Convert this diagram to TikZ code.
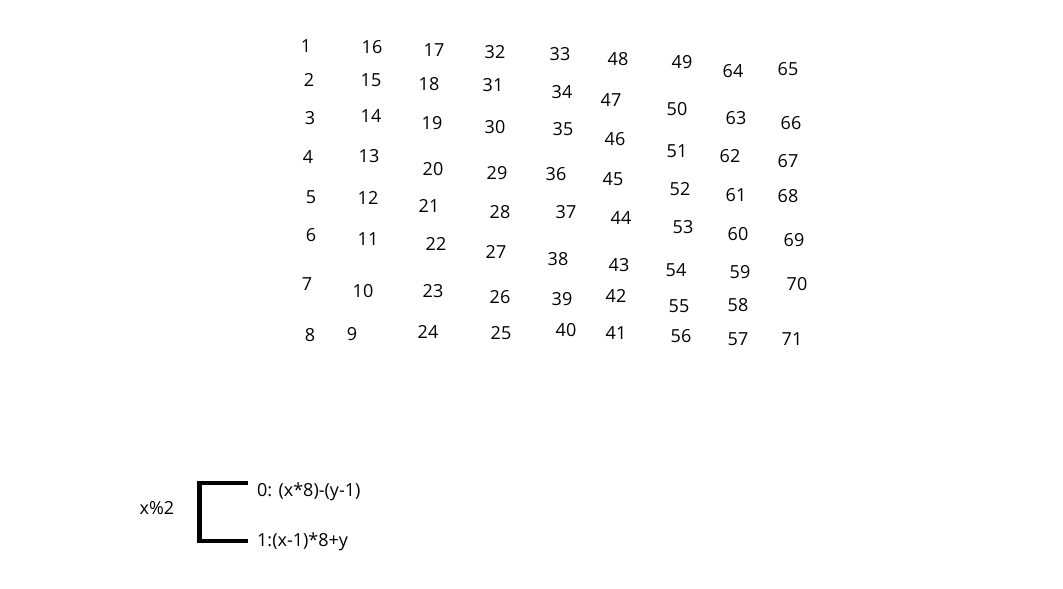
\documentclass[tikz,border=0pt]{standalone}
\usepackage{fontspec}
\setmainfont{Open Sans}
\usepackage{tikz}
\tikzset{
  Num/.style={font=\fontsize{18}{20}\selectfont, inner sep=1pt},
  Rule/.style={font=\fontsize{18}{20}\selectfont, inner sep=0pt, anchor=west},
  Brack/.style={line width=4.4pt}
}

\begin{document}
\begin{tikzpicture}[x=1pt,y=-1pt]
  \useasboundingbox (0,0) rectangle (1063,589);

  % first two columns
  \node[Num] (n1) at (306,46) {1};
  \node[Num] (n2) at (309,80) {2};
  \node[Num] (n3) at (310,118) {3};
  \node[Num] (n4) at (308,157) {4};
  \node[Num] (n5) at (311,197) {5};
  \node[Num] (n6) at (311,235) {6};
  \node[Num] (n7) at (307,284) {7};
  \node[Num] (n8) at (310,335) {8};
  \node[Num] (n9) at (352,334) {9};
  \node[Num] (n10) at (363,291) {10};
  \node[Num] (n11) at (368,239) {11};
  \node[Num] (n12) at (368,198) {12};
  \node[Num] (n13) at (369,156) {13};
  \node[Num] (n14) at (371,116) {14};
  \node[Num] (n15) at (371,80) {15};
  \node[Num] (n16) at (372,47) {16};

  % columns three and four
  \node[Num] (n17) at (434,50) {17};
  \node[Num] (n18) at (429,84) {18};
  \node[Num] (n19) at (432,123) {19};
  \node[Num] (n20) at (433,169) {20};
  \node[Num] (n21) at (429,206) {21};
  \node[Num] (n22) at (436,244) {22};
  \node[Num] (n23) at (433,291) {23};
  \node[Num] (n24) at (428,332) {24};
  \node[Num] (n25) at (501,333) {25};
  \node[Num] (n26) at (500,297) {26};
  \node[Num] (n27) at (496,252) {27};
  \node[Num] (n28) at (500,212) {28};
  \node[Num] (n29) at (497,173) {29};
  \node[Num] (n30) at (495,127) {30};
  \node[Num] (n31) at (493,85) {31};
  \node[Num] (n32) at (495,52) {32};

  % columns five and six
  \node[Num] (n33) at (560,54) {33};
  \node[Num] (n34) at (562,92) {34};
  \node[Num] (n35) at (563,129) {35};
  \node[Num] (n36) at (556,174) {36};
  \node[Num] (n37) at (566,212) {37};
  \node[Num] (n38) at (558,259) {38};
  \node[Num] (n39) at (562,299) {39};
  \node[Num] (n40) at (566,330) {40};
  \node[Num] (n41) at (616,333) {41};
  \node[Num] (n42) at (616,296) {42};
  \node[Num] (n43) at (619,265) {43};
  \node[Num] (n44) at (621,218) {44};
  \node[Num] (n45) at (613,179) {45};
  \node[Num] (n46) at (615,139) {46};
  \node[Num] (n47) at (611,100) {47};
  \node[Num] (n48) at (618,59) {48};

  % columns seven and eight
  \node[Num] (n49) at (682,62) {49};
  \node[Num] (n50) at (677,109) {50};
  \node[Num] (n51) at (677,151) {51};
  \node[Num] (n52) at (680,189) {52};
  \node[Num] (n53) at (683,227) {53};
  \node[Num] (n54) at (676,270) {54};
  \node[Num] (n55) at (679,306) {55};
  \node[Num] (n56) at (681,336) {56};
  \node[Num] (n57) at (738,339) {57};
  \node[Num] (n58) at (738,305) {58};
  \node[Num] (n59) at (740,272) {59};
  \node[Num] (n60) at (738,234) {60};
  \node[Num] (n61) at (736,195) {61};
  \node[Num] (n62) at (730,156) {62};
  \node[Num] (n63) at (736,118) {63};
  \node[Num] (n64) at (733,71) {64};

  % last column
  \node[Num] (n65) at (788,69) {65};
  \node[Num] (n66) at (791,123) {66};
  \node[Num] (n67) at (788,161) {67};
  \node[Num] (n68) at (788,196) {68};
  \node[Num] (n69) at (794,240) {69};
  \node[Num] (n70) at (797,284) {70};
  \node[Num] (n71) at (792,339) {71};

  % parity rule
  \node[Rule, anchor=center] (mod) at (157,508) {x\%2};
  \node[Rule] (even) at (257,492) {0: (x*8)-(y-1)};
  \node[Rule] (odd) at (257,542) {1:(x-1)*8+y};
  \coordinate (brTop) at (248,483);
  \coordinate (brBot) at (248,541);
  \draw[Brack] (brTop) -- ++(-48.5,0) |- (brBot);
\end{tikzpicture}
\end{document}
